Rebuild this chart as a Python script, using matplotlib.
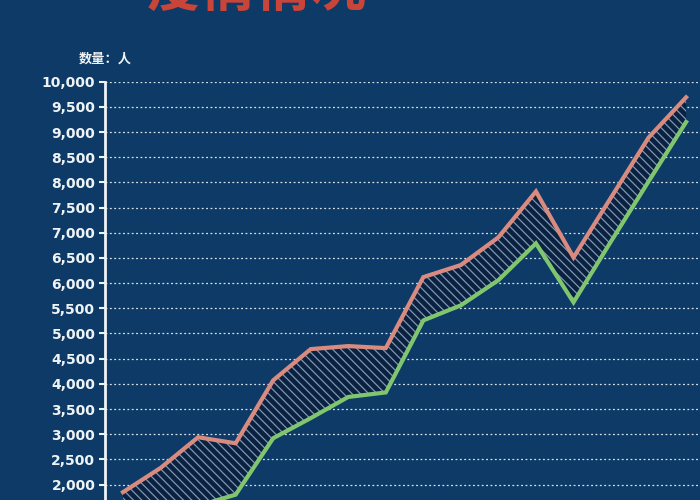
import matplotlib.pyplot as plt
import numpy as np

plt.rcParams['font.family'] = ['Noto Sans CJK SC', 'DejaVu Sans']
plt.rcParams['hatch.linewidth'] = 0.9

# 数据
idx = list(range(16))
upper = [1850, 2330, 2940, 2820, 4070, 4690, 4750, 4710,
         6120, 6360, 6910, 7820, 6510, 7700, 8890, 9690]
lower = [1250, 1420, 1580, 1800, 2920, 3320, 3740, 3830,
         5260, 5560, 6060, 6790, 5620, 6830, 8020, 9200]
yticks = list(range(2000, 10001, 500))

bg = '#0d3a66'
fig = plt.figure(figsize=(7, 5), dpi=100, facecolor=bg)
ax = fig.add_axes([0.15, -0.1706, 0.85, 1.0072])
ax.set_facecolor(bg)

# 网格（虚线）
for v in yticks:
    ax.axhline(v, color='white', lw=0.9, ls=(0, (1.5, 2)), alpha=0.85, zorder=1)

# 阴影区域
ax.fill_between(idx, lower, upper, facecolor='#0a2240', edgecolor='#7f97b3',
                hatch='\\\\\\\\', linewidth=0, zorder=2)

ax.plot(idx, upper, color='#da8b7f', lw=3.0, zorder=4, solid_joinstyle='miter')
ax.plot(idx, lower, color='#80c66f', lw=3.0, zorder=4, solid_joinstyle='miter')

ax.set_xlim(-0.48, 15.37)
ax.set_ylim(0, 10000)
ax.set_yticks(yticks)
ax.set_yticklabels([f'{v:,}' for v in yticks], fontsize=10, fontweight='bold',
                   color='#eef3f5', family='DejaVu Sans')
ax.tick_params(axis='y', colors='#eef3f5', length=4, width=1.5, pad=3)
ax.set_xticks([])
for s in ['top', 'right', 'bottom']:
    ax.spines[s].set_visible(False)
ax.spines['left'].set_color('#eef3f5')
ax.spines['left'].set_linewidth(2)

fig.text(0.112, 0.883, '数量：人', fontsize=9.5, fontweight='bold', color='#eef3f5',
         ha='left', va='center')
fig.text(0.207, 1.02, '疫情情况', fontsize=40, fontweight='bold', color='#c9453a',
         ha='left', va='center')

fig.savefig('out.png', dpi=100, facecolor=bg)
